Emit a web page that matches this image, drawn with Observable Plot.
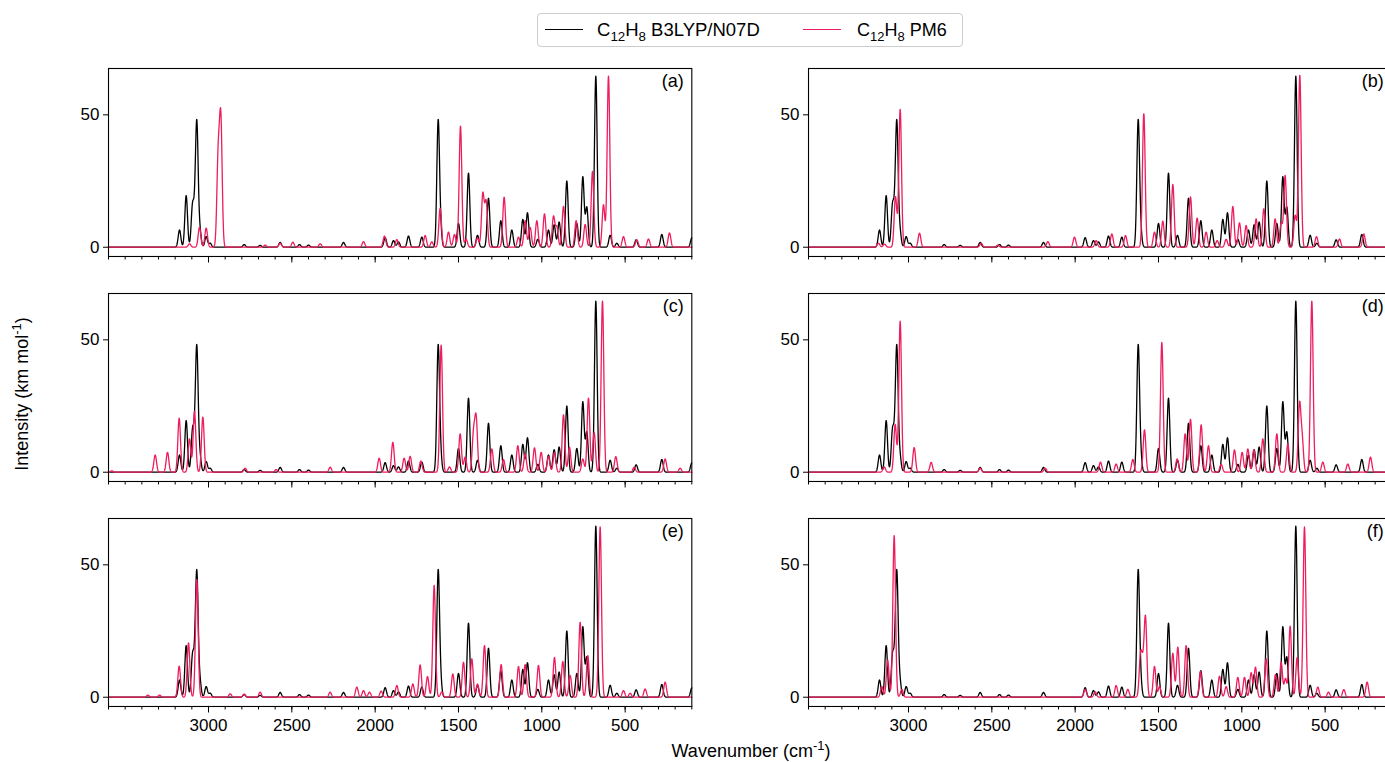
<!DOCTYPE html>
<html><head><meta charset="utf-8">
<script src="https://cdn.jsdelivr.net/npm/d3@7"></script>
<script src="https://cdn.jsdelivr.net/npm/@observablehq/plot@0.6"></script>
<style>
html,body{margin:0;padding:0;background:#fff;overflow:hidden;}
#root{position:relative;width:1385px;height:762px;overflow:hidden;font-family:"Liberation Sans",Arial,Helvetica,sans-serif;color:#000;}
.abs{position:absolute;white-space:nowrap;}
.panel{position:absolute;}
sub,sup{font-size:72%;line-height:0;}
</style></head><body><div id="root"></div>
<script>
// ---------------- data ----------------
const xTicksMajor = [3000, 2500, 2000, 1500, 1000, 500];
const xTicksMinor = d3.range(100, 3601, 100);
const yTicks = [0, 50];
const panelLabels = ["(a)", "(b)", "(c)", "(d)", "(e)", "(f)"];
const refColor = "#000000";
const pm6Color = "#ee1d5d";

// stick positions (cm-1) and peak heights (km mol-1), B3LYP/N07D reference (same in all panels)
const refPeaks = [[3174,6.5],[3134,19.5],[3096,15],[3082,8],[3070,45],[3052,6],[3014,4],[2990,1.5],[2786,1],[2690,0.7],[2570,1.8],[2454,1],[2400,0.8],[2190,1.8],[1940,3.6],[1890,2.5],[1860,2],[1800,4.2],[1720,3.8],[1622,47],[1608,6],[1500,9],[1440,28],[1386,4.5],[1320,18.5],[1246,10],[1180,6.5],[1114,10.5],[1086,13],[1024,3],[960,6.5],[926,8.5],[896,9.5],[850,25],[790,9],[754,26.5],[730,15],[676,64.6],[590,4.5],[550,1.5],[434,2.8],[280,4.8],[100,3.5]];

// PM6 peaks, one list per panel
const pm6PeaksA = [[3114,1.3],[3054,7.5],[3014,7.2],[2942,33],[2926,47],[2660,0.8],[2570,1.5],[2494,1.9],[2330,1.3],[2070,2.1],[1944,4.2],[1870,2.9],[1700,4.4],[1660,2],[1610,14.7],[1560,5.7],[1524,4.8],[1488,45.7],[1454,3],[1386,3.5],[1354,20],[1334,17],[1226,18.9],[1140,3.8],[1100,10],[1070,7.5],[1030,10],[984,12.6],[930,11.5],[910,7.5],[870,15.4],[794,10],[740,8.6],[696,28.6],[630,16],[600,64.6],[510,4],[430,2.8],[360,3.1],[234,5.4]];
const pm6PeaksB = [[3180,1.5],[3144,1.2],[3078,19],[3050,52],[2934,5.3],[2564,1.5],[2464,0.8],[2164,2.1],[2004,3.8],[1874,2.5],[1780,5],[1698,4.4],[1588,50.4],[1524,5.7],[1474,9.8],[1414,23.7],[1308,19],[1268,11],[1214,5.7],[1148,2.5],[1094,3],[1054,15.4],[1014,9.2],[974,8.2],[914,10.7],[868,14.5],[800,10.7],[764,9],[740,27],[680,12],[652,64.9],[552,4],[414,3.1],[268,5]];
const pm6PeaksC = [[3580,0.5],[3320,6.5],[3246,7.5],[3176,20.4],[3114,12.6],[3084,23],[3034,20.8],[2780,1.5],[2594,1],[2270,1.9],[1976,5.3],[1894,11.3],[1826,5.3],[1790,6],[1726,4.2],[1604,48],[1554,2],[1490,14.5],[1460,5.7],[1410,14],[1394,20],[1300,8.8],[1230,4.8],[1144,10],[1100,6.9],[1044,9.2],[1004,7.5],[960,6],[924,7.5],[870,21.7],[834,9.4],[754,5],[720,28],[686,15],[636,64.6],[556,5.9],[446,1.9],[260,5],[170,1.5]];
const pm6PeaksD = [[3146,2],[3080,18],[3050,57],[2966,9.3],[2864,3.7],[2570,1.5],[2180,1.5],[1848,3.8],[1754,3.1],[1654,4.8],[1584,16],[1480,49],[1388,5],[1340,14.5],[1308,20],[1244,17.9],[1200,10],[1124,3],[1044,8.4],[998,7.5],[964,8.8],[928,8.4],[874,12.6],[790,14.5],[724,10.7],[654,25],[638,12],[580,64.6],[514,3.8],[364,3.1],[228,5.7]];
const pm6PeaksE = [[3364,0.8],[3294,0.8],[3176,11.7],[3120,20.5],[3070,44.5],[2870,1.3],[2786,1.2],[2690,1.9],[2270,1.9],[2110,3.8],[2070,2.5],[2034,1.9],[1964,2.3],[1870,4.4],[1774,5],[1730,12.2],[1686,7.8],[1646,42.2],[1600,2],[1534,8.8],[1470,13.2],[1420,14.5],[1386,5],[1344,19.5],[1244,12.3],[1140,11.6],[1100,12.3],[1020,12],[924,15],[874,13.5],[830,8.2],[770,28.3],[724,15.7],[650,64.3],[510,2.5],[470,1.5],[380,3.1],[260,5.7]];
const pm6PeaksF = [[3160,4],[3125,14],[3086,61],[3040,3],[1940,3],[1880,2],[1754,4.4],[1684,3],[1608,15],[1594,10],[1578,29.5],[1524,11.6],[1494,4],[1414,16.6],[1384,18.9],[1334,19.5],[1248,9.7],[1134,7.9],[1094,4],[1024,7.5],[984,7.5],[944,9.2],[918,11.3],[854,14.5],[798,8.6],[764,13.2],[738,7],[710,26.8],[668,15],[624,64.3],[544,3.8],[480,1.9],[388,2.9],[248,5.7]];
const pm6Panels = [pm6PeaksA, pm6PeaksB, pm6PeaksC, pm6PeaksD, pm6PeaksE, pm6PeaksF];

// ---------------- layout ----------------
const root = document.getElementById("root");
const xDomain = [3600, 100];
const yDomain = [-3.5, 67.5];
const plotW = 3500 / 6;     // px of plotting area
const plotH = 188;
const colLeft = [108, 807.8];
const rowTop = [68, 293, 518];
const mL = 60, mR = 20, mT = 6, mB = 40;
const sigma = 8;
const grid = d3.range(xDomain[1], xDomain[0] + 0.5, 1);
function spectrum(peaks) {
  return grid.map(x => ({x, y: d3.sum(peaks, ([c, h]) => h * Math.exp(-((x - c) ** 2) / (2 * sigma * sigma)))}));
}
const refSpec = spectrum(refPeaks);

for (let i = 0; i < 6; i++) {
  const r = Math.floor(i / 2), c = i % 2;
  const bottomRow = r === 2;
  const chart = Plot.plot({
    width: plotW + mL + mR,
    height: plotH + mT + mB,
    marginLeft: mL, marginRight: mR, marginTop: mT, marginBottom: mB,
    style: {fontSize: "17px", fontFamily: "'Liberation Sans', Arial, sans-serif", background: "transparent", overflow: "visible", color: "#000"},
    x: {domain: xDomain},
    y: {domain: yDomain},
    marks: [
      Plot.line(refSpec, {x: "x", y: "y", stroke: refColor, strokeWidth: 1.3}),
      Plot.line(spectrum(pm6Panels[i]), {x: "x", y: "y", stroke: pm6Color, strokeWidth: 1.3}),
      Plot.frame({stroke: "#000", strokeWidth: 1.1}),
      Plot.axisX(xTicksMinor, {tickSize: 3.5, tickFormat: () => "", label: null, strokeWidth: 1}),
      Plot.axisX(xTicksMajor, {tickSize: 6.5, tickPadding: 6, tickFormat: bottomRow ? (d => String(d)) : (() => ""), label: null, strokeWidth: 1}),
      Plot.axisY(yTicks, {tickSize: 5, tickPadding: 4, label: null, strokeWidth: 1}),
      Plot.text([panelLabels[i]], {frameAnchor: "top-right", dx: -8, dy: 6, fontSize: 18, text: d => d})
    ]
  });
  chart.classList.add("panel");
  chart.style.left = (colLeft[c] - mL) + "px";
  chart.style.top = (rowTop[r] - mT) + "px";
  root.appendChild(chart);
}

// ---------------- legend & labels ----------------
function addEl(html, css) {
  const d = document.createElement("div");
  d.className = "abs";
  d.innerHTML = html;
  Object.assign(d.style, css);
  root.appendChild(d);
  return d;
}
addEl("", {left: "537px", top: "13px", width: "424px", height: "32px", border: "1px solid #cccccc", borderRadius: "4px", background: "#fff"});
addEl("", {left: "545px", top: "29px", width: "38px", height: "0", borderTop: "1.4px solid " + refColor});
addEl("C<sub>12</sub>H<sub>8</sub> B3LYP/N07D", {left: "597px", top: "20px", fontSize: "18.5px", lineHeight: "20px"});
addEl("", {left: "803px", top: "29px", width: "38px", height: "0", borderTop: "1.4px solid " + pm6Color});
addEl("C<sub>12</sub>H<sub>8</sub> PM6", {left: "857px", top: "20px", fontSize: "18px", lineHeight: "20px"});

addEl("Wavenumber (cm<sup>-1</sup>)", {left: "751px", top: "741px", transform: "translateX(-50%)", fontSize: "18px", lineHeight: "20px"});
addEl("Intensity (km mol<sup>-1</sup>)", {left: "22px", top: "394px", transform: "translate(-50%,-50%) rotate(-90deg)", fontSize: "18px", lineHeight: "20px"});
</script>
</body></html>
